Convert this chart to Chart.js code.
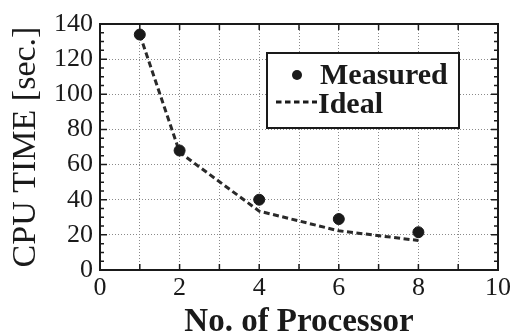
<!DOCTYPE html>
<html>
<head>
<meta charset="utf-8">
<script src="https://cdn.jsdelivr.net/npm/chart.js@4"></script>
<style>
  html, body { margin: 0; padding: 0; background: #fff; }
  #wrap { width: 514px; height: 335px; }
</style>
</head>
<body>
<div id="wrap"><canvas id="myChart" width="514" height="335"></canvas></div>
<script>
const processors = [1, 2, 4, 6, 8];
const measured = [134, 68, 40, 29, 21.5];
const ideal = [134, 67, 33.5, 22.3, 16.8];
const xLabels = [0, 2, 4, 6, 8, 10];

const ink = "#1a1a1a";
const serif = "'Liberation Serif', 'DejaVu Serif', serif";

// frame, inner ticks and the boxed legend
const frame = {
  id: "frame",
  afterDraw(chart) {
    const {ctx, chartArea: a, scales: {x, y}} = chart;
    ctx.save();
    ctx.strokeStyle = ink;
    ctx.lineWidth = 2;
    ctx.strokeRect(a.left, a.top, a.right - a.left, a.bottom - a.top);

    ctx.lineWidth = 1.5;
    ctx.beginPath();
    for (let v = 0; v <= 10; v++) {
      const px = x.getPixelForValue(v);
      ctx.moveTo(px, a.bottom); ctx.lineTo(px, a.bottom - 6);
      ctx.moveTo(px, a.top); ctx.lineTo(px, a.top + 6);
    }
    for (let v = 0; v <= 140; v += 5) {
      const py = y.getPixelForValue(v);
      const len = v % 20 === 0 ? 7 : 4;
      ctx.moveTo(a.left, py); ctx.lineTo(a.left + len, py);
      ctx.moveTo(a.right, py); ctx.lineTo(a.right - len, py);
    }
    ctx.stroke();

    // legend box
    const bx = a.left + 167, by = a.top + 29, bw = 192, bh = 75;
    ctx.fillStyle = "#fff";
    ctx.fillRect(bx, by, bw, bh);
    ctx.lineWidth = 2;
    ctx.strokeRect(bx, by, bw, bh);

    ctx.fillStyle = ink;
    ctx.beginPath();
    ctx.arc(bx + 30, by + 22, 5, 0, Math.PI * 2);
    ctx.fill();

    ctx.lineWidth = 3;
    ctx.setLineDash([5.5, 3.5]);
    ctx.beginPath();
    ctx.moveTo(bx + 9, by + 49);
    ctx.lineTo(bx + 50, by + 49);
    ctx.stroke();
    ctx.setLineDash([]);

    ctx.font = "bold 30px " + serif;
    ctx.textBaseline = "alphabetic";
    ctx.textAlign = "left";
    ctx.fillText(chart.data.datasets[0].label, bx + 53, by + 31);
    ctx.fillText(chart.data.datasets[1].label, bx + 51, by + 60);
    ctx.restore();
  }
};

new Chart(document.getElementById("myChart").getContext("2d"), {
  type: "scatter",
  data: {
    datasets: [{
      label: "Measured",
      data: processors.map((p, i) => ({x: p, y: measured[i]})),
      pointRadius: 5.5,
      pointBackgroundColor: ink,
      pointBorderColor: ink,
      showLine: false,
      order: 0
    }, {
      label: "Ideal",
      data: processors.map((p, i) => ({x: p, y: ideal[i]})),
      showLine: true,
      borderColor: "#2a2a2a",
      borderWidth: 3,
      borderDash: [6, 3.5],
      pointRadius: 0,
      tension: 0,
      order: 1
    }]
  },
  options: {
    responsive: false,
    animation: false,
    layout: {padding: {left: 0, top: 24, right: 13, bottom: 0}},
    plugins: {legend: {display: false}, tooltip: {enabled: false}},
    scales: {
      x: {
        type: "linear",
        min: 0, max: 10,
        afterFit: s => { s.height = 65; },
        grid: {color: "#8a8a8a", lineWidth: 1, drawTicks: false},
        border: {display: false, dash: [1, 2]},
        ticks: {
          stepSize: 1, padding: 3, color: ink,
          font: {family: serif, size: 26},
          callback: v => xLabels.includes(v) ? String(v) : ""
        },
        title: {
          display: true, text: "No. of Processor", color: ink,
          font: {family: serif, size: 33, weight: "bold", lineHeight: 0.75},
          padding: {top: 0, bottom: 0}
        }
      },
      y: {
        min: 0, max: 140,
        afterFit: s => { s.width = 100; },
        grid: {color: "#8a8a8a", lineWidth: 1, drawTicks: false},
        border: {display: false, dash: [1, 2]},
        ticks: {
          stepSize: 20, padding: 7, color: ink,
          font: {family: serif, size: 26}
        },
        title: {
          display: true, text: "CPU TIME [sec.]", color: ink,
          font: {family: serif, size: 34, lineHeight: 1.2},
          padding: {top: 6, bottom: 0}
        }
      }
    }
  },
  plugins: [frame]
});
</script>
</body>
</html>
